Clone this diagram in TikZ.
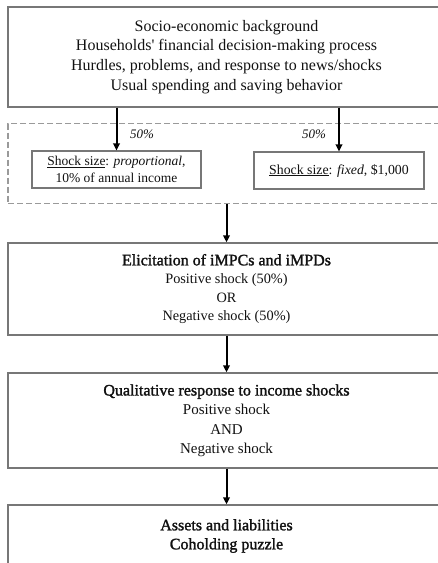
\documentclass[tikz,border=0pt]{standalone}
\usepackage{fontspec}
\setmainfont{Liberation Serif}[Ligatures=TeXOff]
\newfontfamily\titlefont[FakeBold=1.6,Ligatures=TeXOff]{Liberation Serif}
\usetikzlibrary{arrows.meta}
\definecolor{txt}{HTML}{111111}
\definecolor{border}{HTML}{777777}
\definecolor{dashc}{HTML}{9A9A9A}
\tikzset{
  bigbox/.style={draw=border, line width=1.3pt, minimum width=437pt, inner sep=0pt, text=txt, align=center},
  smallbox/.style={draw=border, line width=1.1pt, inner sep=0pt, text=txt, align=center},
  dashbox/.style={draw=dashc, line width=1.1pt, dash pattern=on 6pt off 3pt, minimum width=437pt, inner sep=0pt},
  arr/.style={line width=2pt, -{Triangle[length=7pt, width=6.5pt]}, black},
  pct/.style={font=\fontsize{13}{15}\selectfont\itshape, text=txt, inner sep=0pt}
}
\begin{document}
\begin{tikzpicture}[x=1pt, y=-1pt]
\useasboundingbox (0,0) rectangle (438,563);
\begin{scope}
\clip (0,0) rectangle (438,563);
% top box
\node[bigbox, minimum height=100pt, font=\fontsize{16}{19.7}\selectfont] (top) at (226.5,57)
  {Socio-economic background\\Households' financial decision-making process\\Hurdles, problems, and response to news/shocks\\Usual spending and saving behavior};
% dashed region
\node[dashbox, minimum height=80pt] (dash) at (226.5,163.5) {};
% small boxes
\node[smallbox, minimum width=169pt, minimum height=37pt, font=\fontsize{13.5}{17}\selectfont] (lbox) at (116.5,169.5)
  {\underline{Shock size}: \textit{proportional},\\10\% of annual income};
\node[smallbox, minimum width=170pt, minimum height=37pt, font=\fontsize{13.8}{17}\selectfont] (rbox) at (339,170.5)
  {\underline{Shock size}: \textit{fixed}, \$1,000};
\node[pct] (p1) at (142,134) {50\%};
\node[pct] (p2) at (314,134) {50\%};
% box 2
\node[bigbox, minimum height=92pt, font=\fontsize{14.3}{18.5}\selectfont] (b2) at (226.5,289)
  {{\titlefont\fontsize{16}{18.5}\selectfont Elicitation of iMPCs and iMPDs}\\
   Positive shock (50\%)\\
   OR\\
   Negative shock (50\%)};
% box 3
\node[bigbox, minimum height=95pt, font=\fontsize{15}{19.3}\selectfont] (b3) at (226.5,420.5)
  {{\titlefont\fontsize{16}{19.3}\selectfont Qualitative response to income shocks}\\
   Positive shock\\
   AND\\
   Negative shock};
% box 4
\node[bigbox, minimum height=62pt, font=\titlefont\fontsize{16}{19}\selectfont] (b4) at (226.5,536)
  {Assets and liabilities\\Coholding puzzle};
\end{scope}
% arrows
\draw[arr] (lbox.north |- top.south) -- (lbox.north);
\draw[arr] (rbox.north |- top.south) -- (rbox.north);
\draw[arr] (dash.south) -- (b2.north);
\draw[arr] (b2.south) -- (b3.north);
\draw[arr] (b3.south) -- (b4.north);
\end{tikzpicture}
\end{document}
